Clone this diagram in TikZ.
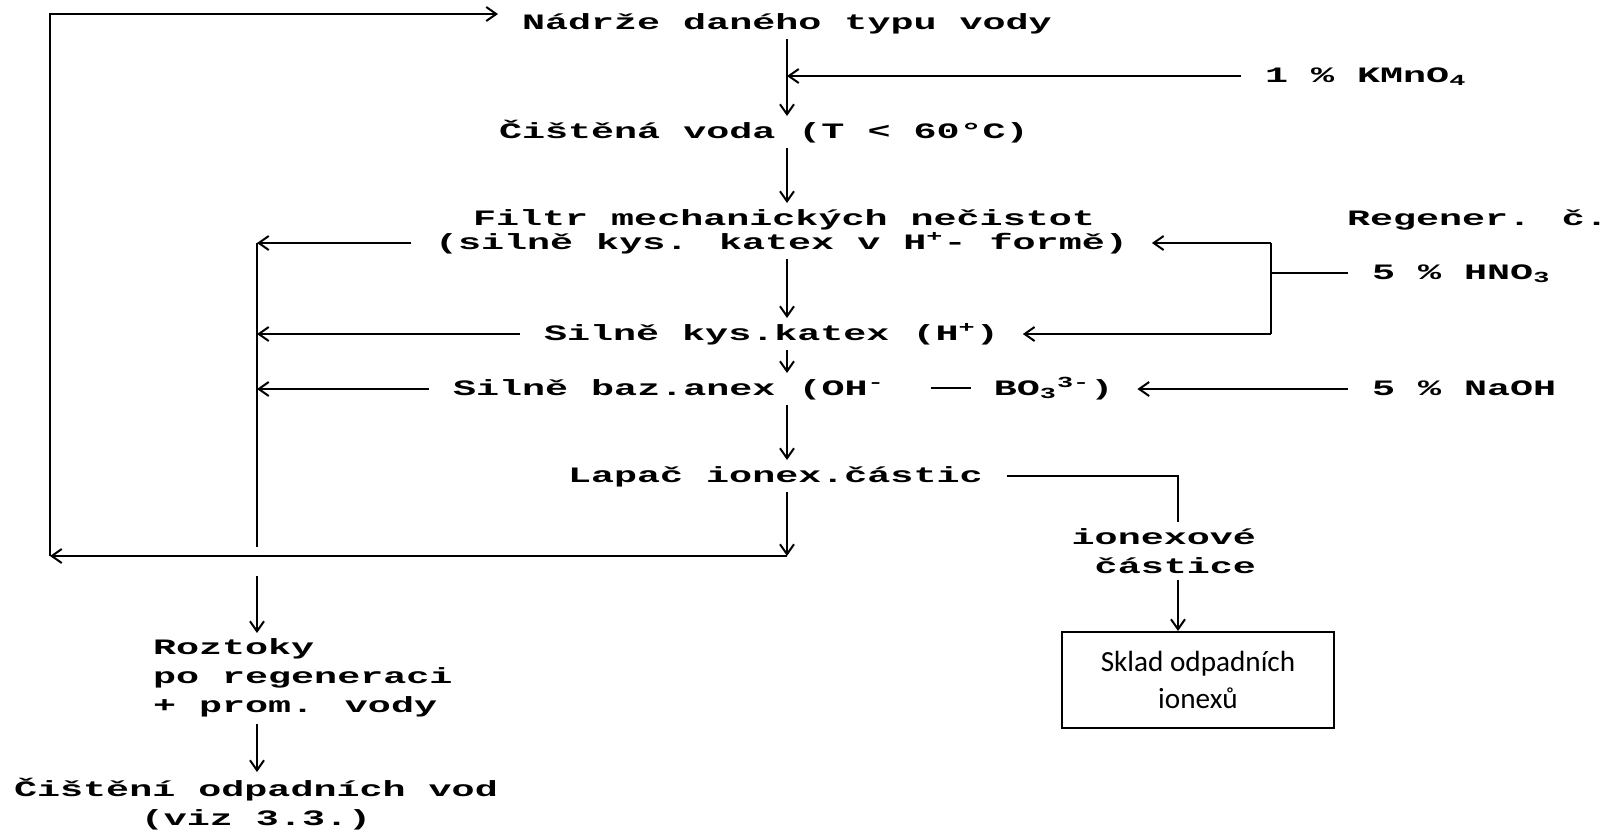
\documentclass[tikz,border=0pt]{standalone}
\usepackage{fontspec}
\newfontfamily\dotfont[FakeStretch=1.745]{Liberation Mono}
\newfontfamily\boxfont{Carlito}
\usetikzlibrary{positioning, arrows.meta}

\begin{document}
\begin{tikzpicture}[x=0.5pt, y=-0.5pt, line width=1pt,
  txt/.style={font=\dotfont\bfseries\fontsize{11}{14.5}\selectfont, inner sep=0pt, outer xsep=12pt, outer ysep=3pt, text height=8pt, text depth=2pt, anchor=west},
  multi/.style={font=\dotfont\bfseries\fontsize{11}{14.5}\selectfont, inner sep=0pt, outer sep=3pt},
  box/.style={draw, minimum width=136pt, minimum height=48pt, align=center, font=\boxfont\fontsize{14.6}{18.5}\selectfont},
  arrow/.style={-{Straight Barb[length=5pt,width=7pt]}}]

  \useasboundingbox (0,0) rectangle (1608,831);
  \coordinate (axis) at (787,0);
  \coordinate (bus) at (257,0);
  \coordinate (brk) at (1271,0);
  \coordinate (drop) at (1178,0);

  \node[txt] (nadrze) at (498,23) {Nádrže daného typu vody};
  \node[txt] (kmno) at (1241,76) {1 \% KMnO\textsubscript{4}};
  \node[txt] (cistena) at (475,132) {Čištěná voda (T < 60°C)};
  \draw[arrow] (nadrze.south -| axis) -- (cistena.north -| axis);
  \draw[arrow] (kmno.west) -- (kmno.west -| axis);

  \node[txt] (filtr) at (449,219) {Filtr mechanických nečistot};
  \node[txt] (filtrb) at (411,243) {(silně kys. katex v H\textsuperscript{+}- formě)};
  \node[txt] (regen) at (1323,219) {Regener. č.};
  \node[txt] (hno) at (1348,273) {5 \% HNO\textsubscript{3}};
  \draw[arrow] (cistena.south -| axis) -- (filtr.north -| axis);

  \node[txt] (silkys) at (520,334) {Silně kys.katex (H\textsuperscript{+})};
  \node[txt] (silbaz) at (429,389) {Silně baz.anex (OH\textsuperscript{-}\ \ \rule[0.55ex]{20pt}{0.8pt}\ BO\textsubscript{3}\textsuperscript{3-})};
  \node[txt] (naoh) at (1348,389) {5 \% NaOH};
  \node[txt] (lapac) at (544,476) {Lapač ionex.částic};
  \draw[arrow] (filtrb.south -| axis) -- (silkys.north -| axis);
  \draw[arrow] (silkys.south -| axis) -- (silbaz.north -| axis);
  \draw[arrow] (silbaz.south -| axis) -- (lapac.north -| axis);

  \draw[arrow] (filtrb.east -| brk) -- (filtrb.east);
  \draw[arrow] (silkys.east -| brk) -- (silkys.east);
  \draw (filtrb.east -| brk) -- (silkys.east -| brk);
  \draw (hno.west) -- (hno.west -| brk);
  \draw[arrow] (naoh.west) -- (silbaz.east);

  \coordinate (busend) at (257,547);
  \coordinate (busdown) at (257,576);
  \node[multi, anchor=north west, align=left] (roztoky) at (147,633) {Roztoky\\po regeneraci\\+ prom. vody};
  \node[multi, anchor=north, align=center] (cisteni) at (256,772) {Čištění odpadních vod\\(viz 3.3.)};
  \draw[arrow] (filtrb.west) -- (filtrb.west -| bus);
  \draw[arrow] (silkys.west) -- (silkys.west -| bus);
  \draw[arrow] (silbaz.west) -- (silbaz.west -| bus);
  \draw (filtrb.west -| bus) -- (busend);
  \draw[arrow] (busdown) -- (roztoky.north -| bus);
  \draw[arrow] (roztoky.south -| bus) -- (cisteni.north -| bus);

  \coordinate (ret) at (787,556);
  \coordinate (retleft) at (50,556);
  \coordinate (topleft) at (50,14);
  \draw[arrow] (lapac.south -| axis) -- (ret);
  \draw[arrow] (ret) -- (retleft);
  \draw[arrow] (retleft) -- (topleft) -- (topleft -| nadrze.west);

  \node[multi, anchor=east, align=right] (ionex) at (1262,551) {ionexové\\částice};
  \node[box] (sklad) at (1198,680) {Sklad odpadních\\ionexů};
  \draw (lapac.east) -| (ionex.north -| drop);
  \draw[arrow] (ionex.south -| drop) -- (sklad.north -| drop);
\end{tikzpicture}
\end{document}
